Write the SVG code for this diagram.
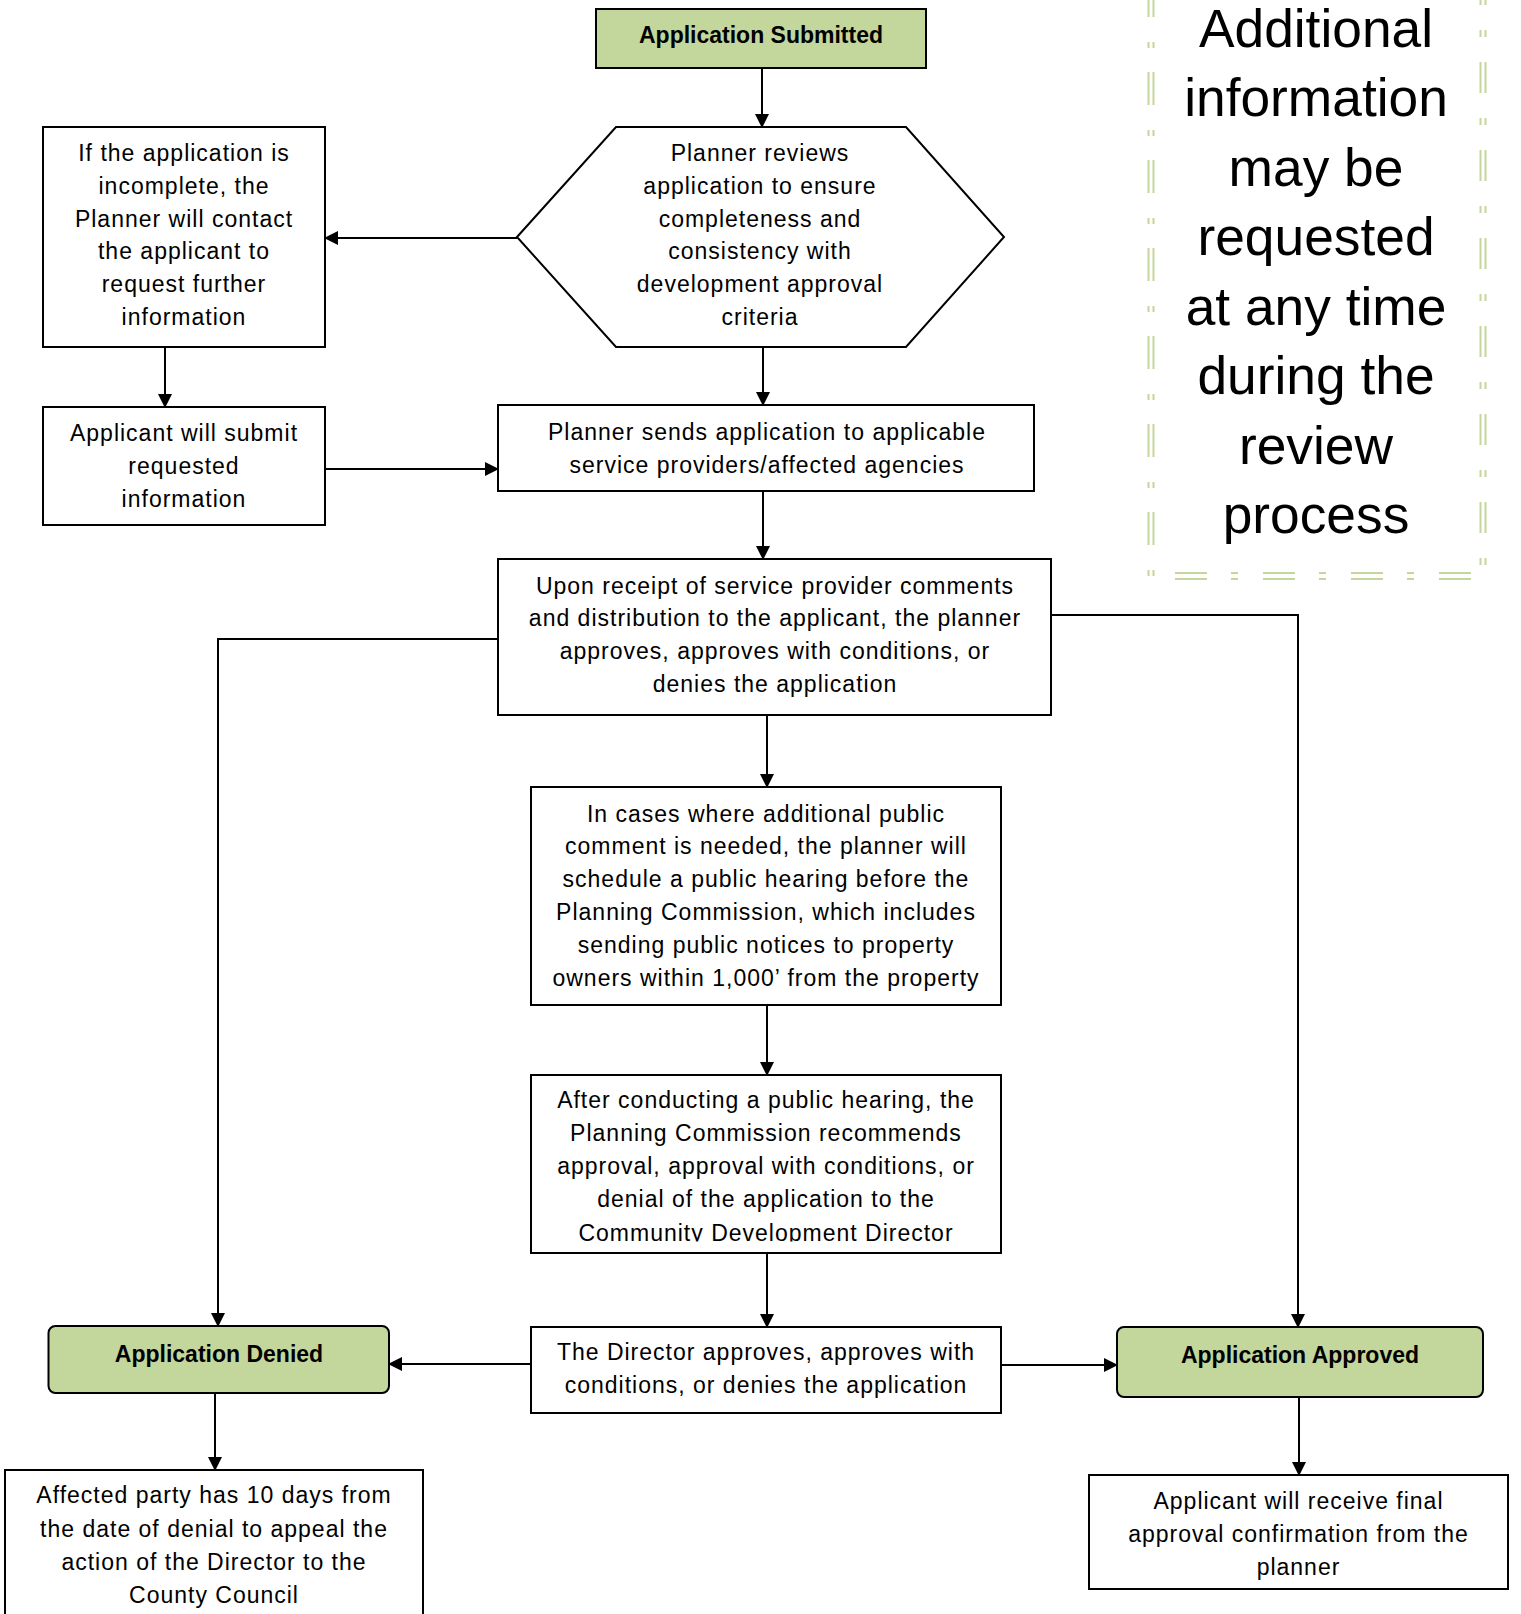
<svg xmlns="http://www.w3.org/2000/svg" width="1521" height="1614" viewBox="0 0 1521 1614">
<style>
.box{fill:#fff;stroke:#000;stroke-width:2}
.green{fill:#c3d69b;stroke:#000;stroke-width:2}
.t{font-family:"Liberation Sans",Arial,sans-serif;font-size:23px;letter-spacing:1px;text-anchor:middle;fill:#000}
.tb{font-family:"Liberation Sans",Arial,sans-serif;font-size:23px;font-weight:bold;text-anchor:middle;fill:#000}
.big{font-family:"Liberation Sans",Arial,sans-serif;font-size:53.3px;text-anchor:middle;fill:#000}
.conn{fill:none;stroke:#000;stroke-width:2;marker-end:url(#ah)}
.dl{fill:none;stroke:#c3d69b;stroke-width:2}
</style>
<defs>
<marker id="ah" markerUnits="userSpaceOnUse" markerWidth="15" markerHeight="14" refX="13" refY="7" orient="auto">
<path d="M0,0 L14,7 L0,14 Z" fill="#000"/>
</marker>
<clipPath id="clipAfter"><rect x="531" y="1075" width="470" height="166.5"/></clipPath>
</defs>
<rect width="1521" height="1614" fill="#fff"/>

<g id="connectors">
<line class="conn" x1="762" y1="68" x2="762" y2="127"/>
<line class="conn" x1="517" y1="238" x2="325" y2="238"/>
<line class="conn" x1="165" y1="347" x2="165" y2="407"/>
<line class="conn" x1="322" y1="469" x2="498" y2="469"/>
<line class="conn" x1="763" y1="347" x2="763" y2="405"/>
<line class="conn" x1="763" y1="491" x2="763" y2="559"/>
<line class="conn" x1="767" y1="715" x2="767" y2="787"/>
<line class="conn" x1="767" y1="1005" x2="767" y2="1075"/>
<line class="conn" x1="767" y1="1253" x2="767" y2="1327"/>
<polyline class="conn" points="498,639 218,639 218,1326"/>
<polyline class="conn" points="1051,615 1298,615 1298,1327"/>
<line class="conn" x1="531" y1="1364" x2="389" y2="1364"/>
<line class="conn" x1="1001" y1="1365" x2="1117" y2="1365"/>
<line class="conn" x1="215" y1="1393" x2="215" y2="1470"/>
<line class="conn" x1="1299" y1="1397" x2="1299" y2="1475"/>
</g>

<g id="note">
<line class="dl" x1="1148.5" y1="-16" x2="1148.5" y2="577" stroke-dasharray="33 25 6 24"/>
<line class="dl" x1="1153.5" y1="-16" x2="1153.5" y2="577" stroke-dasharray="33 25 6 24"/>
<line class="dl" x1="1480.5" y1="-26" x2="1480.5" y2="565" stroke-dasharray="31 25 7 25"/>
<line class="dl" x1="1485.5" y1="-26" x2="1485.5" y2="565" stroke-dasharray="31 25 7 25"/>
<line class="dl" x1="1175" y1="573" x2="1472" y2="573" stroke-dasharray="32 24 7 25"/>
<line class="dl" x1="1175" y1="579" x2="1472" y2="579" stroke-dasharray="32 24 7 25"/>
<text class="big"><tspan x="1316" y="46.7">Additional</tspan><tspan x="1316" y="116.2">information</tspan><tspan x="1316" y="185.7">may be</tspan><tspan x="1316" y="255.2">requested</tspan><tspan x="1316" y="324.7">at any time</tspan><tspan x="1316" y="394.2">during the</tspan><tspan x="1316" y="463.7">review</tspan><tspan x="1316" y="533.2">process</tspan></text>
</g>

<g id="submitted">
<rect class="green" x="596" y="9" width="330" height="59"/>
<text class="tb" x="761" y="43.3">Application Submitted</text>
</g>

<g id="review">
<polygon class="box" points="517,237 616,127 906,127 1004,237 906,347 616,347"/>
<text class="t"><tspan x="760" y="160.7">Planner reviews</tspan><tspan x="760" y="193.6">application to ensure</tspan><tspan x="760" y="226.5">completeness and</tspan><tspan x="760" y="259.4">consistency with</tspan><tspan x="760" y="292.3">development approval</tspan><tspan x="760" y="325.2">criteria</tspan></text>
</g>

<g id="incomplete">
<rect class="box" x="43" y="127" width="282" height="220"/>
<text class="t"><tspan x="184" y="160.7">If the application is</tspan><tspan x="184" y="193.6">incomplete, the</tspan><tspan x="184" y="226.5">Planner will contact</tspan><tspan x="184" y="259.4">the applicant to</tspan><tspan x="184" y="292.3">request further</tspan><tspan x="184" y="325.2">information</tspan></text>
</g>

<g id="submit-info">
<rect class="box" x="43" y="407" width="282" height="118"/>
<text class="t"><tspan x="184" y="440.5">Applicant will submit</tspan><tspan x="184" y="473.5">requested</tspan><tspan x="184" y="506.5">information</tspan></text>
</g>

<g id="sends">
<rect class="box" x="498" y="405" width="536" height="86"/>
<text class="t"><tspan x="767" y="439.5">Planner sends application to applicable</tspan><tspan x="767" y="472.5">service providers/affected agencies</tspan></text>
</g>

<g id="receipt">
<rect class="box" x="498" y="559" width="553" height="156"/>
<text class="t"><tspan x="775" y="593.5">Upon receipt of service provider comments</tspan><tspan x="775" y="626.4">and distribution to the applicant, the planner</tspan><tspan x="775" y="659.3">approves, approves with conditions, or</tspan><tspan x="775" y="692.2">denies the application</tspan></text>
</g>

<g id="public-comment">
<rect class="box" x="531" y="787" width="470" height="218"/>
<text class="t"><tspan x="766" y="821.5">In cases where additional public</tspan><tspan x="766" y="854.3">comment is needed, the planner will</tspan><tspan x="766" y="887.1">schedule a public hearing before the</tspan><tspan x="766" y="919.9">Planning Commission, which includes</tspan><tspan x="766" y="952.7">sending public notices to property</tspan><tspan x="766" y="985.5">owners within 1,000’ from the property</tspan></text>
</g>

<g id="hearing">
<rect class="box" x="531" y="1075" width="470" height="178"/>
<text class="t" clip-path="url(#clipAfter)"><tspan x="766" y="1108">After conducting a public hearing, the</tspan><tspan x="766" y="1141">Planning Commission recommends</tspan><tspan x="766" y="1174">approval, approval with conditions, or</tspan><tspan x="766" y="1207">denial of the application to the</tspan><tspan x="766" y="1240.5">Community Development Director</tspan></text>
</g>

<g id="director">
<rect class="box" x="531" y="1327" width="470" height="86"/>
<text class="t"><tspan x="766" y="1360">The Director approves, approves with</tspan><tspan x="766" y="1393">conditions, or denies the application</tspan></text>
</g>

<g id="denied">
<rect class="green" x="48.5" y="1326" width="340.5" height="67" rx="7"/>
<text class="tb" x="219" y="1362">Application Denied</text>
</g>

<g id="approved">
<rect class="green" x="1117" y="1327" width="366" height="70" rx="7"/>
<text class="tb" x="1300" y="1363">Application Approved</text>
</g>

<g id="appeal">
<rect class="box" x="5" y="1470" width="418" height="160"/>
<text class="t"><tspan x="214" y="1503">Affected party has 10 days from</tspan><tspan x="214" y="1536.5">the date of denial to appeal the</tspan><tspan x="214" y="1569.5">action of the Director to the</tspan><tspan x="214" y="1602.5">County Council</tspan></text>
</g>

<g id="final">
<rect class="box" x="1089" y="1475" width="419" height="114"/>
<text class="t"><tspan x="1298.5" y="1508.5">Applicant will receive final</tspan><tspan x="1298.5" y="1541.5">approval confirmation from the</tspan><tspan x="1298.5" y="1574.5">planner</tspan></text>
</g>
</svg>
